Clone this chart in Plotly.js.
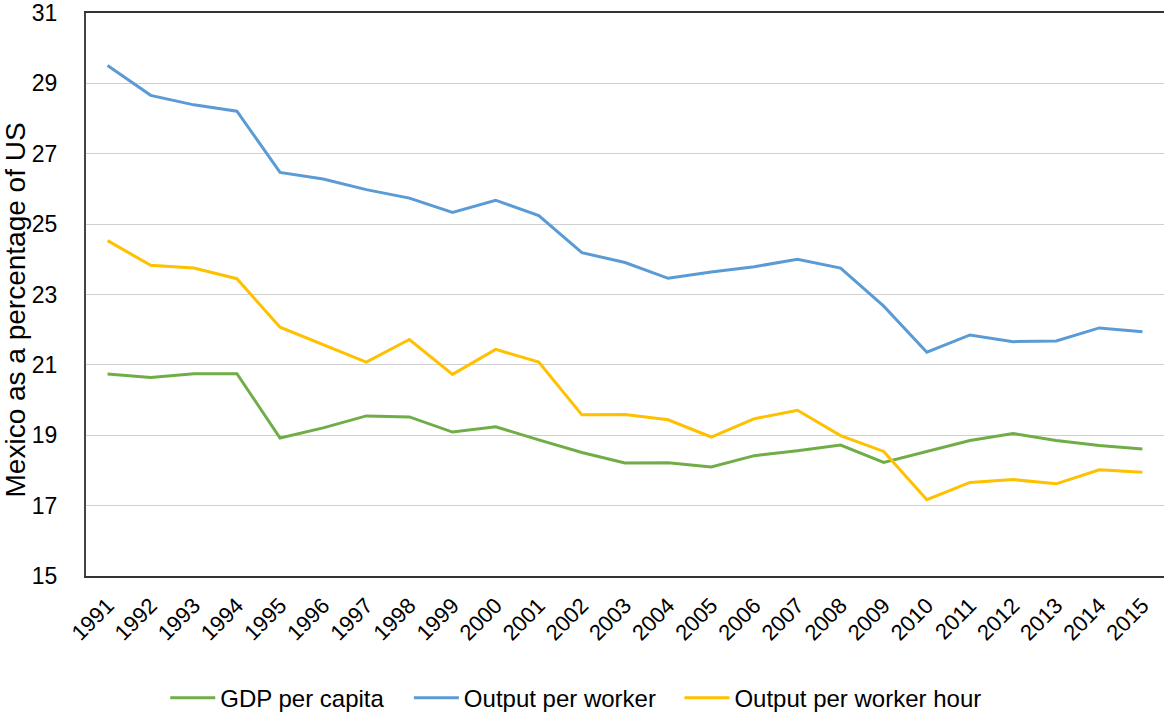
<!DOCTYPE html>
<html>
<head>
<meta charset="utf-8">
<script src="https://cdn.plot.ly/plotly-3.0.1.min.js"></script>
<style>html,body{margin:0;padding:0;background:#fff;}#chart{width:1164px;height:713px;}</style>
</head>
<body>
<div id="chart"></div>
<script>
const years = ["1991","1992","1993","1994","1995","1996","1997","1998","1999","2000","2001","2002","2003","2004","2005","2006","2007","2008","2009","2010","2011","2012","2013","2014","2015"];
const gdpPerCapita = [20.74,20.64,20.75,20.75,18.92,19.21,19.55,19.52,19.09,19.24,18.87,18.51,18.21,18.22,18.10,18.42,18.56,18.72,18.23,18.54,18.85,19.05,18.85,18.71,18.61];
const outputPerWorker = [29.51,28.66,28.39,28.21,26.47,26.28,25.98,25.74,25.33,25.68,25.24,24.19,23.91,23.46,23.64,23.79,24.00,23.75,22.67,21.36,21.85,21.66,21.68,22.05,21.94];
const outputPerWorkerHour = [24.53,23.83,23.75,23.45,22.07,21.58,21.08,21.72,20.73,21.44,21.08,19.58,19.59,19.44,18.95,19.47,19.71,18.99,18.54,17.17,17.66,17.74,17.62,18.02,17.95];
const seriesNames = ["GDP per capita","Output per worker","Output per worker hour"];
const yTicks = [15,17,19,21,23,25,27,29,31];
const yTitle = "Mexico as a percentage of US";

const traces = [
  {x: years, y: gdpPerCapita, name: seriesNames[0], type: 'scatter', mode: 'lines', line: {color: '#70AD47', width: 3}, legend: 'legend'},
  {x: years, y: outputPerWorker, name: seriesNames[1], type: 'scatter', mode: 'lines', line: {color: '#5B9BD5', width: 3}, legend: 'legend2'},
  {x: years, y: outputPerWorkerHour, name: seriesNames[2], type: 'scatter', mode: 'lines', line: {color: '#FFC000', width: 3}, legend: 'legend3'}
];

const legendBase = {orientation: 'h', xanchor: 'left', y: -0.217, yanchor: 'middle',
                    font: {size: 24, color: '#000'}, itemwidth: 45, bgcolor: 'rgba(0,0,0,0)'};

const layout = {
  width: 1164, height: 713,
  margin: {l: 86, r: 0, t: 13, b: 137, autoexpand: false},
  paper_bgcolor: '#fff', plot_bgcolor: '#fff',
  font: {family: 'Liberation Sans, Arial, sans-serif', color: '#000'},
  showlegend: true,
  legend: Object.assign({}, legendBase, {x: 0.0735}),
  legend2: Object.assign({}, legendBase, {x: 0.2995}),
  legend3: Object.assign({}, legendBase, {x: 0.5505}),
  xaxis: {
    type: 'category', range: [-0.5, 24.5], automargin: false,
    tickangle: -45, tickfont: {size: 22, color: '#000'},
    showgrid: false, showline: true, linecolor: '#333', linewidth: 2, mirror: true,
    ticks: '', ticklabelstandoff: 6, zeroline: false, fixedrange: true
  },
  yaxis: {
    range: [15, 31], tickvals: yTicks, ticktext: yTicks.map(String), automargin: false,
    tickfont: {size: 23, color: '#000'},
    showgrid: true, gridcolor: '#D0D0D0', gridwidth: 1,
    showline: true, linecolor: '#444', linewidth: 2,
    ticks: '', ticklabelstandoff: 22, zeroline: false
  },
  annotations: [{
    text: yTitle, textangle: -90, showarrow: false,
    xref: 'paper', yref: 'paper', x: -0.0645, y: 0.4725, xanchor: 'center', yanchor: 'middle',
    font: {size: 28, color: '#000'}
  }]
};

Plotly.newPlot('chart', traces, layout, {displayModeBar: false, staticPlot: true});
</script>
</body>
</html>
